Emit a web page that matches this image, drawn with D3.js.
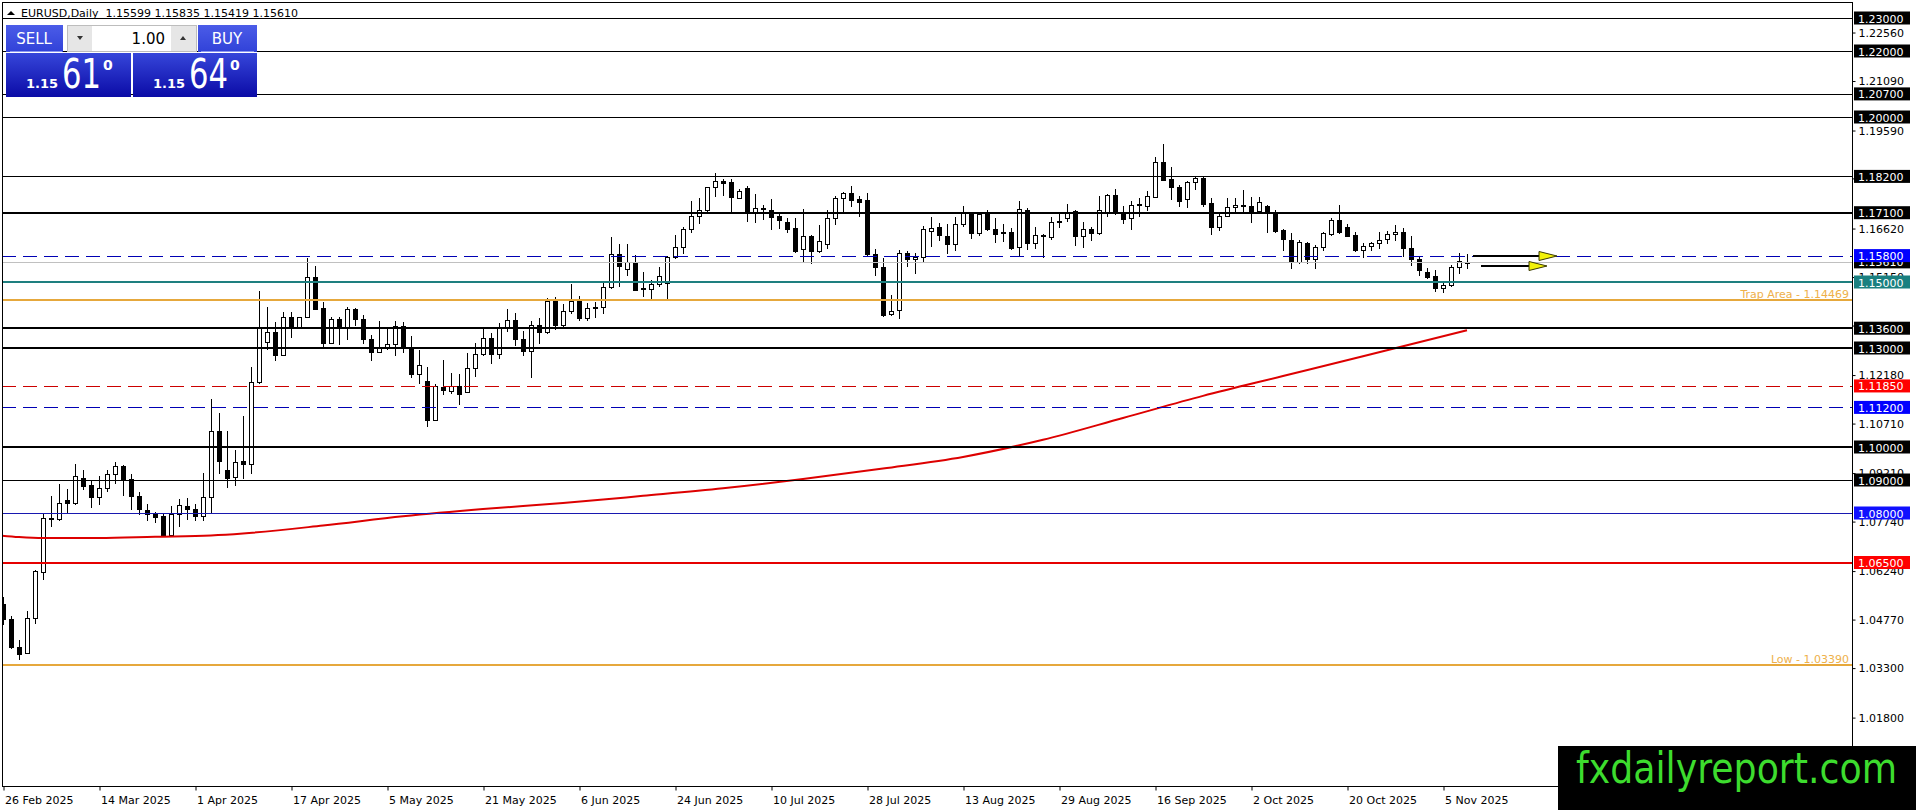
<!DOCTYPE html>
<html>
<head>
<meta charset="utf-8">
<script src="https://cdn.jsdelivr.net/npm/d3@7/dist/d3.min.js"></script>
<style>
  body { margin: 0; background: #fff; overflow: hidden; }
  svg { display: block; }
  text { font-family: "DejaVu Sans", sans-serif; }
</style>
</head>
<body>
<svg id="chart"></svg>
<script>
// ---- data ----
const symbol = "EURUSD,Daily";

const tickDates = ["26 Feb 2025", "14 Mar 2025", "1 Apr 2025", "17 Apr 2025", "5 May 2025", "21 May 2025",
  "6 Jun 2025", "24 Jun 2025", "10 Jul 2025", "28 Jul 2025", "13 Aug 2025", "29 Aug 2025",
  "16 Sep 2025", "2 Oct 2025", "20 Oct 2025", "5 Nov 2025"];
const tickBars = [0, 12, 24, 36, 48, 60, 72, 84, 96, 108, 120, 132, 144, 156, 168, 180];

const opens = [
  1.0525,1.0479,1.0395,1.0376,1.0481,1.0621,1.0786,1.0783,1.0838,1.0831,
  1.0907,1.0884,1.0848,1.0877,1.0919,1.0941,1.0904,1.0853,1.0810,1.0796,
  1.0790,1.0732,1.0796,1.0820,1.0813,1.0790,1.0848,1.1049,1.0931,1.0909,
  1.0957,1.0950,1.1197,1.1317,1.1347,1.1280,1.1395,1.1365,1.1395,1.1514,
  1.1420,1.1316,1.1387,1.1362,1.1417,1.1387,1.1326,1.1289,1.1299,1.1311,
  1.1368,1.1299,1.1221,1.1199,1.1083,1.1182,1.1170,1.1185,1.1167,1.1238,
  1.1281,1.1329,1.1282,1.1364,1.1386,1.1326,1.1292,1.1369,1.1347,1.1442,
  1.1370,1.1413,1.1442,1.1390,1.1420,1.1424,1.1486,1.1584,1.1540,1.1560,
  1.1478,1.1478,1.1493,1.1496,1.1575,1.1607,1.1660,1.1700,1.1717,1.1787,
  1.1807,1.1802,1.1756,1.1784,1.1711,1.1722,1.1719,1.1700,1.1683,1.1663,
  1.1599,1.1640,1.1595,1.1615,1.1693,1.1754,1.1769,1.1751,1.1749,1.1585,
  1.1544,1.1402,1.1415,1.1587,1.1569,1.1577,1.1656,1.1666,1.1638,1.1614,
  1.1675,1.1708,1.1648,1.1713,1.1661,1.1651,1.1651,1.1605,1.1717,1.1617,
  1.1643,1.1636,1.1681,1.1693,1.1716,1.1638,1.1661,1.1648,1.1712,1.1764,
  1.1709,1.1693,1.1732,1.1731,1.1759,1.1865,1.1812,1.1787,1.1751,1.1803,
  1.1815,1.1739,1.1666,1.1700,1.1727,1.1734,1.1731,1.1714,1.1729,1.1713,
  1.1658,1.1628,1.1562,1.1617,1.1569,1.1605,1.1646,1.1688,1.1666,1.1643,
  1.1597,1.1609,1.1617,1.1630,1.1646,1.1653,1.1602,1.1569,1.1531,1.1518,
  1.1481,1.1491,1.1545,1.15599
];
const highs = [
  1.0545,1.0489,1.0415,1.0502,1.0626,1.0796,1.0853,1.0887,1.0874,1.0947,
  1.0929,1.0899,1.0911,1.0929,1.0954,1.0944,1.0917,1.0863,1.0828,1.0803,
  1.0800,1.0820,1.0843,1.0846,1.0828,1.0922,1.1144,1.1104,1.1049,1.0990,
  1.1093,1.1243,1.1474,1.1423,1.1378,1.1410,1.1408,1.1395,1.1572,1.1549,
  1.1440,1.1395,1.1393,1.1423,1.1420,1.1400,1.1339,1.1383,1.1360,1.1383,
  1.1380,1.1336,1.1294,1.1243,1.1192,1.1265,1.1225,1.1221,1.1286,1.1314,
  1.1359,1.1344,1.1375,1.1418,1.1405,1.1350,1.1382,1.1390,1.1452,1.1455,
  1.1433,1.1494,1.1457,1.1435,1.1440,1.1499,1.1635,1.1615,1.1615,1.1582,
  1.1529,1.1506,1.1545,1.1580,1.1643,1.1668,1.1746,1.1756,1.1789,1.1830,
  1.1813,1.1813,1.1781,1.1791,1.1767,1.1734,1.1751,1.1713,1.1693,1.1693,
  1.1721,1.1643,1.1673,1.1718,1.1761,1.1774,1.1791,1.1761,1.1771,1.1599,
  1.1572,1.1461,1.1597,1.1595,1.1587,1.1670,1.1698,1.1678,1.1676,1.1696,
  1.1729,1.1713,1.1713,1.1717,1.1693,1.1675,1.1663,1.1744,1.1724,1.1666,
  1.1646,1.1696,1.1708,1.1737,1.1719,1.1683,1.1666,1.1761,1.1767,1.1782,
  1.1731,1.1744,1.1754,1.1777,1.1878,1.1919,1.1848,1.1795,1.1805,1.1818,
  1.1817,1.1754,1.1708,1.1754,1.1754,1.1778,1.1759,1.1759,1.1734,1.1719,
  1.1660,1.1648,1.1628,1.1622,1.1612,1.1653,1.1693,1.1734,1.1676,1.1653,
  1.1619,1.1622,1.1653,1.1656,1.1673,1.1663,1.1640,1.1577,1.1541,1.1536,
  1.1496,1.1552,1.1589,1.15835
];
const lows = [
  1.0465,1.0392,1.0358,1.0375,1.0466,1.0600,1.0762,1.0780,1.0803,1.0828,
  1.0874,1.0818,1.0828,1.0867,1.0891,1.0856,1.0813,1.0796,1.0780,1.0773,
  1.0732,1.0731,1.0762,1.0783,1.0778,1.0778,1.0803,1.0921,1.0879,1.0884,
  1.0907,1.0920,1.1193,1.1296,1.1263,1.1278,1.1334,1.1363,1.1393,1.1418,
  1.1306,1.1314,1.1312,1.1328,1.1369,1.1316,1.1265,1.1289,1.1296,1.1278,
  1.1289,1.1211,1.1194,1.1063,1.1081,1.1160,1.1164,1.1129,1.1167,1.1215,
  1.1278,1.1255,1.1270,1.1350,1.1310,1.1280,1.1212,1.1315,1.1345,1.1357,
  1.1360,1.1405,1.1385,1.1385,1.1395,1.1405,1.1481,1.1488,1.1521,1.1476,
  1.1458,1.1450,1.1488,1.1453,1.1574,1.1589,1.1653,1.1678,1.1708,1.1762,
  1.1764,1.1716,1.1754,1.1686,1.1683,1.1690,1.1662,1.1665,1.1653,1.1592,
  1.1562,1.1557,1.1592,1.1602,1.1676,1.1710,1.1729,1.1700,1.1582,1.1521,
  1.1397,1.1400,1.1390,1.1549,1.1526,1.1562,1.1609,1.1628,1.1589,1.1597,
  1.1670,1.1633,1.1643,1.1658,1.1622,1.1624,1.1600,1.1582,1.1600,1.1602,
  1.1577,1.1630,1.1668,1.1686,1.1612,1.1607,1.1626,1.1645,1.1701,1.1706,
  1.1680,1.1660,1.1701,1.1719,1.1757,1.1810,1.1751,1.1729,1.1727,1.1781,
  1.1731,1.1645,1.1658,1.1700,1.1710,1.1708,1.1683,1.1708,1.1650,1.1653,
  1.1597,1.1541,1.1557,1.1559,1.1541,1.1597,1.1643,1.1648,1.1638,1.1595,
  1.1577,1.1597,1.1602,1.1619,1.1627,1.1579,1.1552,1.1521,1.1511,1.1474,
  1.1471,1.1489,1.1526,1.15419
];
const closes = [
  1.0478,1.0393,1.0373,1.0482,1.0623,1.0786,1.0783,1.0831,1.0830,1.0911,
  1.0882,1.0848,1.0877,1.0919,1.0942,1.0899,1.0851,1.0813,1.0798,1.0788,
  1.0732,1.0796,1.0825,1.0812,1.0790,1.0848,1.1049,1.0958,1.0906,1.0955,
  1.0947,1.1197,1.1361,1.1347,1.1280,1.1395,1.1362,1.1393,1.1514,1.1418,
  1.1316,1.1387,1.1362,1.1417,1.1387,1.1326,1.1289,1.1299,1.1311,1.1368,
  1.1299,1.1221,1.1247,1.1083,1.1184,1.1174,1.1185,1.1162,1.1238,1.1281,
  1.1329,1.1281,1.1364,1.1386,1.1326,1.1292,1.1369,1.1347,1.1442,1.1370,
  1.1413,1.1442,1.1390,1.1420,1.1424,1.1486,1.1584,1.1549,1.1560,1.1476,
  1.1482,1.1493,1.1519,1.1575,1.1607,1.1660,1.1700,1.1717,1.1787,1.1807,
  1.1800,1.1757,1.1777,1.1711,1.1724,1.1724,1.1698,1.1688,1.1661,1.1595,
  1.1640,1.1595,1.1624,1.1693,1.1754,1.1769,1.1747,1.1741,1.1585,1.1544,
  1.1400,1.1413,1.1587,1.1569,1.1575,1.1660,1.1665,1.1641,1.1615,1.1675,
  1.1708,1.1648,1.1706,1.1660,1.1645,1.1648,1.1604,1.1721,1.1617,1.1641,
  1.1638,1.1681,1.1686,1.1708,1.1638,1.1661,1.1648,1.1719,1.1764,1.1709,
  1.1690,1.1734,1.1737,1.1761,1.1865,1.1810,1.1787,1.1744,1.1802,1.1815,
  1.1737,1.1666,1.1700,1.1727,1.1734,1.1731,1.1711,1.1741,1.1711,1.1656,
  1.1630,1.1562,1.1620,1.1569,1.1605,1.1648,1.1688,1.1650,1.1640,1.1597,
  1.1609,1.1619,1.1627,1.1646,1.1653,1.1602,1.1569,1.1536,1.1516,1.1481,
  1.1491,1.1545,1.1564,1.15610
];

// red moving average, read at a few bars
const maBars   = [-0.5, 2, 5, 12, 19, 26, 30, 40, 50, 60, 70, 80, 90, 100, 110, 120, 130, 140, 150, 160, 170, 183];
const maValues = [1.0732, 1.0727, 1.0724, 1.0724, 1.0728, 1.0732, 1.0738, 1.0762, 1.0790, 1.0812, 1.0830,
  1.0852, 1.0875, 1.0903, 1.0935, 1.0970, 1.1022, 1.1088, 1.1155, 1.1215, 1.1275, 1.1354];

// horizontal levels drawn on the chart
const levelPrices = [1.23, 1.22, 1.207, 1.20, 1.182, 1.171, 1.158, 1.15, 1.14469, 1.136, 1.13,
  1.1185, 1.112, 1.10, 1.09, 1.08, 1.065, 1.0339];
const levelKinds = ["thin", "thin", "thin", "thin", "thin", "thick", "blueDash", "teal", "orange", "thick", "thick",
  "redDash", "blueDash", "thick", "thin", "blue", "red", "orange"];
const levelNotes = ["", "", "", "", "", "", "", "", "Trap Area", "", "", "", "", "", "", "", "", "Low"];

// plain price-scale ticks
const priceTicks = [1.2256, 1.2109, 1.1959, 1.1814, 1.1662, 1.1515, 1.1368, 1.1218, 1.1071, 1.0921,
  1.0774, 1.0624, 1.0477, 1.0330, 1.0180];

const bid = 1.1561;
const sellPips = "61", buyPips = "64", bigFigure = "1.15", lotSize = "1.00";

// the two arrowed trend lines on the right (bar index and price)
const arrowFrom = [183.75, 184.75];
const arrowTo = [194.25, 193];
const arrowPrices = [1.158, 1.1548];

// ---- layout ----
const width = 1916, height = 810;
const plot = { left: 2, top: 2, right: 1852, bottom: 786 };

const svg = d3.select("#chart").attr("width", width).attr("height", height);
svg.append("rect").attr("width", width).attr("height", height).attr("fill", "#fff");

const x = d3.scaleLinear().domain([0, 183]).range([3, 1467]);
const y = d3.scaleLinear().domain([1.15, 1.10]).range([282, 447]);

const kindStyle = {
  thin:     { stroke: "#000", width: 1, dash: null, box: "#000" },
  thick:    { stroke: "#000", width: 2, dash: null, box: "#000" },
  blueDash: { stroke: "#0000b4", width: 1, dash: "14,7", box: "#0000ff" },
  redDash:  { stroke: "#cc0000", width: 1, dash: "14,7", box: "#ff0000" },
  teal:     { stroke: "#1e7f7f", width: 2, dash: null, box: "#1a8080" },
  orange:   { stroke: "#e6a83c", width: 2, dash: null, box: null },
  blue:     { stroke: "#1818b0", width: 1, dash: null, box: "#1010ff" },
  red:      { stroke: "#e60000", width: 2, dash: null, box: "#ff0000" }
};

const defs = svg.append("defs");
defs.append("clipPath").attr("id", "plotClip").append("rect")
  .attr("x", plot.left).attr("y", plot.top)
  .attr("width", plot.right - plot.left).attr("height", plot.bottom - plot.top);

const panelGrad = defs.append("linearGradient").attr("id", "panelGrad").attr("x1", 0).attr("y1", 0).attr("x2", 0).attr("y2", 1);
panelGrad.append("stop").attr("offset", "0%").attr("stop-color", "#3646da");
panelGrad.append("stop").attr("offset", "100%").attr("stop-color", "#0b0ba6");
const btnGrad = defs.append("linearGradient").attr("id", "btnGrad").attr("x1", 0).attr("y1", 0).attr("x2", 0).attr("y2", 1);
btnGrad.append("stop").attr("offset", "0%").attr("stop-color", "#4b5ce8");
btnGrad.append("stop").attr("offset", "100%").attr("stop-color", "#3142d8");

const chart = svg.append("g").attr("clip-path", "url(#plotClip)");

// bars
const bars = d3.range(opens.length).map(i => ({ i, o: opens[i], h: highs[i], l: lows[i], c: closes[i] }));

chart.append("g").selectAll("line")
  .data(bars)
  .join("line")
  .attr("x1", d => x(d.i) + 0.5).attr("x2", d => x(d.i) + 0.5)
  .attr("y1", d => Math.round(y(d.h))).attr("y2", d => Math.round(y(d.l)) + 1)
  .attr("stroke", "#000").attr("stroke-width", 1);

chart.append("g").selectAll("rect")
  .data(bars)
  .join("rect")
  .each(function (d) {
    const top = Math.round(y(Math.max(d.o, d.c)));
    const bot = Math.round(y(Math.min(d.o, d.c)));
    const r = d3.select(this);
    if (d.c >= d.o) {
      r.attr("x", x(d.i) - 1.5).attr("y", top + 0.5)
        .attr("width", 4).attr("height", Math.max(bot - top, 1))
        .attr("fill", "#fff").attr("stroke", "#000").attr("stroke-width", 1);
    } else {
      r.attr("x", x(d.i) - 2).attr("y", top)
        .attr("width", 5).attr("height", Math.max(bot - top + 1, 1))
        .attr("fill", "#000");
    }
  });

// moving average
const maLine = d3.line()
  .x(d => x(d[0]))
  .y(d => y(d[1]))
  .curve(d3.curveMonotoneX);

chart.append("path")
  .datum(maBars.map((b, i) => [b, maValues[i]]))
  .attr("d", maLine)
  .attr("fill", "none")
  .attr("stroke", "#dd0000")
  .attr("stroke-width", 2);

// bid line
chart.append("line")
  .attr("x1", plot.left).attr("x2", plot.right)
  .attr("y1", Math.round(y(bid)) + 0.5).attr("y2", Math.round(y(bid)) + 0.5)
  .attr("stroke", "#c0c0c0");

// levels
const levels = levelPrices.map((p, i) => ({ p, kind: levelKinds[i], note: levelNotes[i] }));

chart.append("g").selectAll("line")
  .data(levels)
  .join("line")
  .attr("x1", plot.left).attr("x2", plot.right)
  .attr("y1", d => Math.round(y(d.p)) + (kindStyle[d.kind].width === 1 ? 0.5 : 0))
  .attr("y2", d => Math.round(y(d.p)) + (kindStyle[d.kind].width === 1 ? 0.5 : 0))
  .attr("stroke", d => kindStyle[d.kind].stroke)
  .attr("stroke-width", d => kindStyle[d.kind].width)
  .attr("stroke-dasharray", d => kindStyle[d.kind].dash);

chart.append("g").selectAll("text")
  .data(levels.filter(d => d.note))
  .join("text")
  .attr("x", plot.right - 3)
  .attr("y", d => Math.round(y(d.p)) - 2)
  .attr("text-anchor", "end")
  .attr("font-size", 11)
  .attr("fill", "#eeb04a")
  .text(d => `${d.note} - ${d.p.toFixed(5)}`);

// arrowed lines
const arrows = arrowPrices.map((p, i) => ({ p, from: arrowFrom[i], to: arrowTo[i] }));
const arrowG = chart.append("g");
arrowG.selectAll("line")
  .data(arrows)
  .join("line")
  .attr("x1", d => x(d.from)).attr("x2", d => x(d.to) - 12)
  .attr("y1", d => Math.round(y(d.p))).attr("y2", d => Math.round(y(d.p)))
  .attr("stroke", "#000").attr("stroke-width", 2);
arrowG.selectAll("path")
  .data(arrows)
  .join("path")
  .attr("d", d => {
    const tx = x(d.to), ty = Math.round(y(d.p));
    return `M${tx},${ty}L${tx - 18},${ty - 4.5}L${tx - 18},${ty + 4.5}Z`;
  })
  .attr("fill", "#f2f20a").attr("stroke", "#3a3a00").attr("stroke-width", 1);

// frame
svg.append("rect")
  .attr("x", plot.left + 0.5).attr("y", plot.top + 0.5)
  .attr("width", plot.right - plot.left).attr("height", plot.bottom - plot.top)
  .attr("fill", "none").attr("stroke", "#000");

// price axis
const yAxis = svg.append("g")
  .attr("transform", `translate(${plot.right + 0.5},0)`)
  .call(d3.axisRight(y).tickValues(priceTicks).tickFormat(d3.format(".5f")).tickSize(3).tickPadding(3).tickSizeOuter(0));
yAxis.select(".domain").remove();
yAxis.selectAll("text").attr("font-family", "DejaVu Sans").attr("font-size", 11).attr("fill", "#000");
yAxis.selectAll("line").attr("stroke", "#000");

// time axis
const xAxis = svg.append("g")
  .attr("transform", `translate(0.5,${plot.bottom + 0.5})`)
  .call(d3.axisBottom(x).tickValues(tickBars).tickFormat((d, i) => tickDates[i]).tickSize(4).tickPadding(6));
xAxis.select(".domain").remove();
xAxis.selectAll("text")
  .attr("text-anchor", "start").attr("dx", 1)
  .attr("font-family", "DejaVu Sans").attr("font-size", 11).attr("fill", "#000");
xAxis.selectAll("line").attr("stroke", "#000");

// boxed price labels
const boxG = svg.append("g");
function priceBox(p, fill) {
  const yc = y(p);
  boxG.append("rect")
    .attr("x", plot.right + 2).attr("y", yc - 6.5)
    .attr("width", 56).attr("height", 13)
    .attr("fill", fill);
  boxG.append("text")
    .attr("x", plot.right + 6).attr("y", yc + 4.5)
    .attr("font-size", 11).attr("fill", "#fff")
    .text(p.toFixed(5));
}
priceBox(bid, "#000");
levels.filter(d => kindStyle[d.kind].box).forEach(d => priceBox(d.p, kindStyle[d.kind].box));

// header
const head = svg.append("g");
head.append("path").attr("d", "M7,15L11,11L15,15Z").attr("fill", "#000");
head.append("text")
  .attr("x", 21).attr("y", 17)
  .attr("font-size", 11)
  .style("white-space", "pre")
  .text(`${symbol}  ${[opens, highs, lows, closes].map(a => a[a.length - 1].toFixed(5)).join(" ")}`);

// one-click trading panel
const panel = svg.append("g").attr("font-family", "'Open Sans', sans-serif");
panel.append("rect").attr("x", 6).attr("y", 25).attr("width", 57).attr("height", 27).attr("fill", "url(#btnGrad)");
panel.append("rect").attr("x", 198).attr("y", 25).attr("width", 59).attr("height", 27).attr("fill", "url(#btnGrad)");
panel.append("line").attr("x1", 10).attr("x2", 62).attr("y1", 51.5).attr("y2", 51.5).attr("stroke", "#8c98f0");
panel.append("line").attr("x1", 201).attr("x2", 254).attr("y1", 51.5).attr("y2", 51.5).attr("stroke", "#8c98f0");
panel.append("text").attr("x", 34).attr("y", 44).attr("text-anchor", "middle").attr("font-size", 15).attr("fill", "#fff").text("SELL");
panel.append("text").attr("x", 227).attr("y", 44).attr("text-anchor", "middle").attr("font-size", 15).attr("fill", "#fff").text("BUY");

panel.append("rect").attr("x", 67.5).attr("y", 25.5).attr("width", 129).attr("height", 26).attr("fill", "#fff").attr("stroke", "#bdbdbd");
panel.append("rect").attr("x", 68).attr("y", 26).attr("width", 24).attr("height", 25).attr("fill", "#e6e6e6");
panel.append("rect").attr("x", 171).attr("y", 26).attr("width", 25).attr("height", 25).attr("fill", "#e6e6e6");
panel.append("path").attr("d", "M77,36L83,36L80,40Z").attr("fill", "#333");
panel.append("path").attr("d", "M180,40L186,40L183,36Z").attr("fill", "#333");
panel.append("text").attr("x", 165).attr("y", 44).attr("text-anchor", "end").attr("font-size", 15).attr("fill", "#000").text(lotSize);

[{ x0: 6, w: 125, pips: sellPips }, { x0: 133, w: 124, pips: buyPips }].forEach(q => {
  panel.append("rect").attr("x", q.x0).attr("y", 53).attr("width", q.w).attr("height", 44).attr("fill", "url(#panelGrad)");
  panel.append("text").attr("x", q.x0 + 20).attr("y", 88).attr("font-size", 13).attr("font-weight", "bold").attr("fill", "#fff").text(bigFigure);
  panel.append("text").attr("x", q.x0 + 56).attr("y", 88).attr("font-size", 40).attr("fill", "#fff")
    .attr("textLength", 39).attr("lengthAdjust", "spacingAndGlyphs").text(q.pips);
  panel.append("text").attr("x", q.x0 + 97).attr("y", 70).attr("font-size", 14).attr("font-weight", "bold").attr("fill", "#fff").text("0");
});

// watermark
const mark = svg.append("g");
mark.append("rect").attr("x", 1558).attr("y", 746).attr("width", width - 1558).attr("height", height - 746).attr("fill", "#000");
mark.append("text")
  .attr("x", 1576).attr("y", 783)
  .attr("font-family", "'Liberation Sans', Arial, sans-serif")
  .attr("font-size", 42)
  .attr("textLength", 321).attr("lengthAdjust", "spacingAndGlyphs")
  .attr("fill", "#3ddc2e")
  .text("fxdailyreport.com");
</script>
</body>
</html>
